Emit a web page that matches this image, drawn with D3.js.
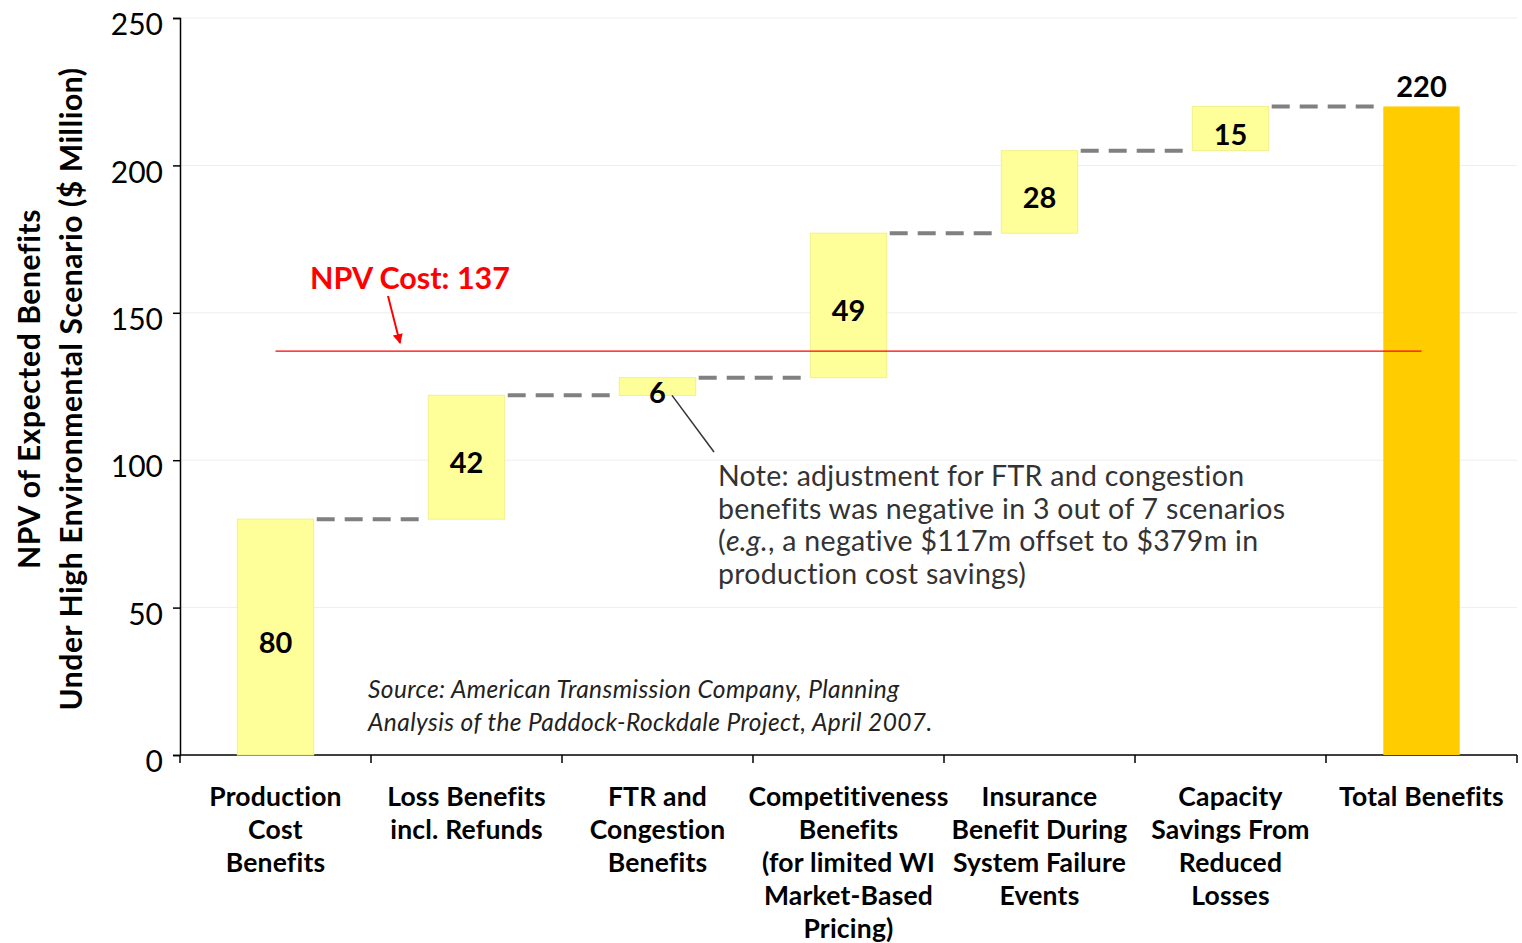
<!DOCTYPE html>
<html lang="en">
  <head>
    <meta charset="utf-8">
    <title>NPV of Expected Benefits - waterfall</title>
    <style>
      body {
          margin: 0;
          background: white;
          }
      svg {
          display: block;
          font-family: Lato, "Open Sans", sans-serif;
      }
    </style>
    <script src="https://d3js.org/d3.v7.min.js"></script>
  </head>
  <body>
    <div class="chart"></div>
    <script>

    // chart data
    const categories = ["Production Cost Benefits", "Loss Benefits incl. Refunds", "FTR and Congestion Benefits",
      "Competitiveness Benefits (for limited WI Market-Based Pricing)", "Insurance Benefit During System Failure Events",
      "Capacity Savings From Reduced Losses", "Total Benefits"]
    const categoryLines = [
      ["Production", "Cost", "Benefits"],
      ["Loss Benefits", "incl. Refunds"],
      ["FTR and", "Congestion", "Benefits"],
      ["Competitiveness", "Benefits", "(for limited WI", "Market-Based", "Pricing)"],
      ["Insurance", "Benefit During", "System Failure", "Events"],
      ["Capacity", "Savings From", "Reduced", "Losses"],
      ["Total Benefits"]
    ]
    const values = [80, 42, 6, 49, 28, 15, 220]
    const isTotal = [false, false, false, false, false, false, true]
    const yTicks = [0, 50, 100, 150, 200, 250]
    const npvCost = 137
    const noteLines = [
      "Note: adjustment for FTR and congestion",
      "benefits was negative in 3 out of 7 scenarios",
      "(e.g., a negative $117m offset to $379m in",
      "production cost savings)"
    ]
    const sourceLines = [
      "Source: American Transmission Company, Planning",
      "Analysis of the Paddock-Rockdale Project, April 2007."
    ]

    const width = 1522, height = 943
    const margin = { top: 18, left: 180, bottom: 188, right: 5 }

    // build the steps
    let run = 0
    const steps = values.map((v, i) => {
      let start, end
      if (isTotal[i]) { start = 0; end = v }
      else { start = run; end = run + v; run = end }
      return { cat: categories[i], lines: categoryLines[i], value: v, start, end, total: isTotal[i] }
    })

    const x = d3.scaleBand()
      .domain(categories)
      .range([margin.left, width - margin.right])
      .paddingInner(0.6)
      .paddingOuter(0.3)

    const y = d3.scaleLinear()
      .domain([0, 250])
      .range([height - margin.bottom, margin.top])

    const svg = d3.select(".chart")
      .append("svg")
      .attr("width", width)
      .attr("height", height)

    svg.append("defs").append("marker")
      .attr("id", "arrow")
      .attr("viewBox", "0 0 10 10")
      .attr("refX", 9).attr("refY", 5)
      .attr("markerWidth", 5).attr("markerHeight", 5)
      .attr("orient", "auto")
      .append("path")
      .attr("d", "M0,0 L10,5 L0,10 z")
      .attr("fill", "red")

    // gridlines
    svg.append("g")
      .selectAll("line")
      .data(yTicks.filter(d => d > 0))
      .join("line")
      .attr("x1", margin.left).attr("x2", width - margin.right)
      .attr("y1", d => y(d)).attr("y2", d => y(d))
      .attr("stroke", "#eeeeee")
      .attr("stroke-width", 1)

    // y axis
    const yAxis = svg.append("g")
      .attr("transform", `translate(${margin.left},0)`)
      .call(d3.axisLeft(y).tickValues(yTicks).tickSize(7).tickPadding(10))
    yAxis.select(".domain").attr("stroke", "black").attr("stroke-width", 1.5)
    yAxis.selectAll(".tick line").attr("stroke", "black").attr("stroke-width", 1.5)
    yAxis.selectAll(".tick text")
      .attr("dy", "0.32em")
      .attr("y", 7)
      .style("font-size", "30px")
      .style("font-family", "Lato, 'Open Sans', sans-serif")
      .attr("fill", "black")

    // x axis line and boundary ticks
    const step = x.step()
    svg.append("line")
      .attr("x1", margin.left).attr("x2", width - margin.right)
      .attr("y1", y(0)).attr("y2", y(0))
      .attr("stroke", "black").attr("stroke-width", 1.5)
    svg.append("g")
      .selectAll("line")
      .data(d3.range(categories.length + 1))
      .join("line")
      .attr("x1", i => margin.left + i * step).attr("x2", i => margin.left + i * step)
      .attr("y1", y(0)).attr("y2", y(0) + 8)
      .attr("stroke", "black").attr("stroke-width", 1.5)

    // category labels
    svg.append("g")
      .selectAll("text")
      .data(steps)
      .join("text")
      .attr("text-anchor", "middle")
      .style("font-size", "26.5px")
      .style("font-weight", "bold")
      .style("letter-spacing", "0.2px")
      .attr("fill", "black")
      .each(function(d) {
        const cx = x(d.cat) + x.bandwidth() / 2
        d3.select(this).selectAll("tspan")
          .data(d.lines)
          .join("tspan")
          .attr("x", cx)
          .attr("y", (l, j) => 806 + j * 33)
          .text(l => l)
      })

    // connectors
    svg.append("g")
      .attr("stroke", "#808080")
      .attr("stroke-width", 4)
      .attr("stroke-dasharray", "18,10")
      .selectAll("line")
      .data(steps.slice(0, -1))
      .join("line")
      .attr("x1", d => x(d.cat) + x.bandwidth() + 3)
      .attr("x2", (d, i) => x(steps[i + 1].cat) - 3)
      .attr("y1", d => y(d.end))
      .attr("y2", d => y(d.end))

    // bars
    svg.append("g")
      .selectAll("rect")
      .data(steps)
      .join("rect")
      .attr("x", d => x(d.cat))
      .attr("width", x.bandwidth())
      .attr("y", d => y(d.end))
      .attr("height", d => y(d.start) - y(d.end))
      .attr("fill", d => d.total ? "#ffcc00" : "#ffff99")
      .attr("stroke", d => d.total ? "none" : "#f0f08a")
      .attr("stroke-width", 1)

    // value labels
    svg.append("g")
      .selectAll("text")
      .data(steps)
      .join("text")
      .attr("x", d => x(d.cat) + x.bandwidth() / 2)
      .attr("y", d => d.total ? y(d.end) - 9 : (y(d.start) + y(d.end)) / 2 + 16)
      .attr("text-anchor", "middle")
      .style("font-size", "29px")
      .style("font-weight", "bold")
      .attr("fill", "black")
      .text(d => d.value)

    // NPV cost line
    const first = steps[0], last = steps[steps.length - 1]
    svg.append("line")
      .attr("x1", x(first.cat) + x.bandwidth() / 2)
      .attr("x2", x(last.cat) + x.bandwidth() / 2)
      .attr("y1", y(npvCost)).attr("y2", y(npvCost))
      .attr("stroke", "red").attr("stroke-width", 1.3)

    svg.append("text")
      .attr("x", 310).attr("y", 289)
      .style("font-size", "30.5px")
      .style("font-weight", "bold")
      .attr("fill", "red")
      .text("NPV Cost: " + npvCost)

    svg.append("line")
      .attr("x1", 388).attr("y1", 296)
      .attr("x2", 400).attr("y2", y(npvCost) - 8)
      .attr("stroke", "red").attr("stroke-width", 2)
      .attr("marker-end", "url(#arrow)")

    // note with leader line to FTR bar
    svg.append("line")
      .attr("x1", 672).attr("y1", y(steps[2].start))
      .attr("x2", 714).attr("y2", 452)
      .attr("stroke", "#333").attr("stroke-width", 1.5)

    const note = svg.append("text")
      .style("font-size", "28.5px")
      .style("letter-spacing", "0.3px")
      .attr("fill", "#333")
    noteLines.forEach((l, j) => {
      const t = note.append("tspan").attr("x", 718).attr("y", 486 + j * 32.6)
      if (l.startsWith("(e.g.")) {
        t.text("(")
        note.append("tspan").style("font-style", "italic").text("e.g.")
        note.append("tspan").text(l.slice(5))
      } else {
        t.text(l)
      }
    })

    // source
    svg.append("g")
      .selectAll("text")
      .data(sourceLines)
      .join("text")
      .attr("x", 368)
      .attr("y", (d, j) => 698 + j * 33)
      .style("font-size", "24.5px")
      .style("letter-spacing", "0.4px")
      .style("font-style", "italic")
      .attr("fill", "#222")
      .text(d => d)

    // y title
    const yTitle = svg.append("text")
      .attr("transform", "translate(0,389) rotate(-90)")
      .attr("text-anchor", "middle")
      .style("font-size", "30px")
      .style("font-weight", "bold")
      .style("letter-spacing", "0.6px")
      .attr("fill", "black")
    yTitle.append("tspan").attr("x", 0).attr("y", 40).text("NPV of Expected Benefits")
    yTitle.append("tspan").attr("x", 0).attr("y", 82).text("Under High Environmental Scenario ($ Million)")

    </script>
  </body>
</html>
